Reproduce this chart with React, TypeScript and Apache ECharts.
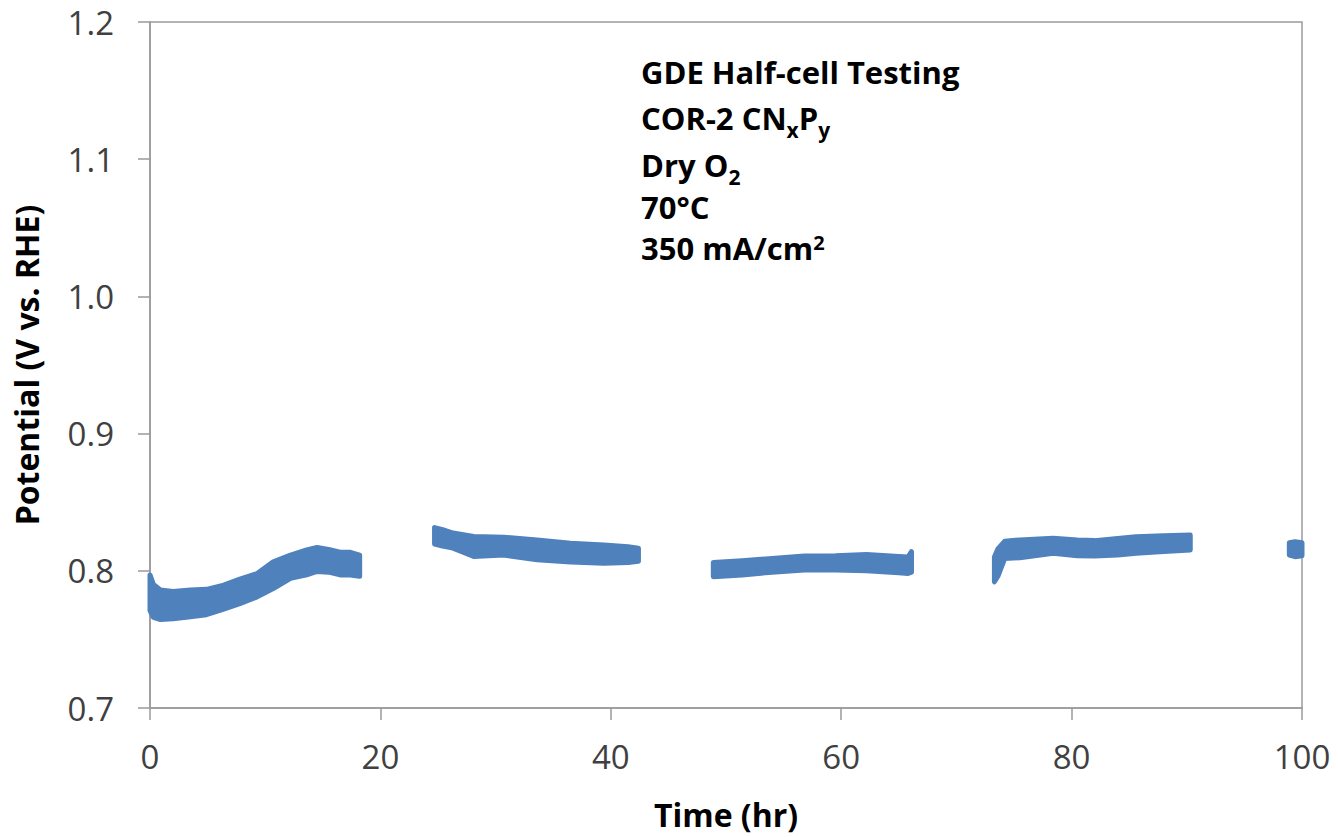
import React, { useEffect, useRef } from "react";
import * as echarts from "echarts";

// Time (hr) and lower / upper edge of the measured potential band (V vs. RHE), per test segment
const seg1Time = [0, 0.3, 0.9, 2.0, 3.5, 4.9, 6.4, 7.8, 9.3, 10.7, 12.2, 13.6, 14.5, 15.5, 16.5, 17.4, 18.2];
const seg1Low = [0.771, 0.766, 0.7645, 0.765, 0.7665, 0.768, 0.772, 0.776, 0.781, 0.787, 0.7945, 0.797, 0.7995, 0.799, 0.797, 0.797, 0.796];
const seg1High = [0.797, 0.79, 0.786, 0.785, 0.786, 0.7865, 0.7895, 0.794, 0.798, 0.8065, 0.8115, 0.8152, 0.817, 0.8155, 0.8135, 0.8135, 0.8115];

const seg2Time = [24.7, 25.4, 26.3, 28.1, 30.7, 33.6, 36.5, 39.4, 41.5, 42.4];
const seg2Low = [0.8195, 0.818, 0.8165, 0.8105, 0.8115, 0.808, 0.8065, 0.8055, 0.806, 0.807];
const seg2High = [0.8315, 0.83, 0.8275, 0.825, 0.8245, 0.8225, 0.82, 0.8188, 0.8175, 0.8165];

const seg3Time = [48.9, 51.4, 54.0, 56.8, 59.5, 62.2, 65.0, 65.8, 66.1];
const seg3Low = [0.7957, 0.797, 0.799, 0.8006, 0.8005, 0.8001, 0.7985, 0.798, 0.799];
const seg3High = [0.806, 0.8074, 0.809, 0.8108, 0.811, 0.8118, 0.8105, 0.81, 0.814];

const seg4Time = [73.3, 73.6, 74.2, 75.5, 78.4, 80.5, 82.0, 84.0, 85.6, 88.0, 90.3];
const seg4Low = [0.792, 0.796, 0.809, 0.8095, 0.8128, 0.811, 0.8108, 0.8115, 0.8128, 0.814, 0.8152];
const seg4High = [0.81, 0.816, 0.8215, 0.8225, 0.8237, 0.8225, 0.822, 0.8235, 0.8249, 0.8255, 0.8261];

const seg5Time = [98.9, 99.4, 100];
const seg5Low = [0.8115, 0.8103, 0.811];
const seg5High = [0.8205, 0.8212, 0.8205];

const segments = [
  { time: seg1Time, low: seg1Low, high: seg1High },
  { time: seg2Time, low: seg2Low, high: seg2High },
  { time: seg3Time, low: seg3Low, high: seg3High },
  { time: seg4Time, low: seg4Low, high: seg4High },
  { time: seg5Time, low: seg5Low, high: seg5High },
];

const xTicks = { min: 0, max: 100, interval: 20 };
const yTicks = { min: 0.7, max: 1.2, interval: 0.1 };

const annotationLines = [
  "{m|GDE Half-cell Testing}",
  "{m|COR-2 CN}{s|x}{m|P}{s|y}",
  "{m|Dry O}{s|2}",
  "{m|70°C}",
  "{n|350 mA/cm}{p|2}",
];

const BLUE = "#4F81BD";
const AXIS = "#9a9a9a";
const FONT = "'Open Sans', 'Noto Sans', sans-serif";

export default function App() {
  const ref = useRef<HTMLDivElement>(null);

  useEffect(() => {
    if (!ref.current) return;
    const chart = echarts.init(ref.current, undefined, { renderer: "svg" });

    const series: any[] = segments.map((seg) => ({
      type: "custom",
      coordinateSystem: "cartesian2d",
      data: [[seg.time[0], seg.low[0]]],
      z: 3,
      renderItem: (_params: any, api: any) => {
        const pts: number[][] = [];
        for (let i = 0; i < seg.time.length; i++) pts.push(api.coord([seg.time[i], seg.high[i]]));
        for (let i = seg.time.length - 1; i >= 0; i--) pts.push(api.coord([seg.time[i], seg.low[i]]));
        return {
          type: "polygon",
          shape: { points: pts },
          style: { fill: BLUE, stroke: BLUE, lineWidth: 5, lineJoin: "round" },
        };
      },
    }));

    const richStyles = {
      m: { fontFamily: FONT, fontSize: 31, fontWeight: "bold", lineHeight: 44, fill: "#000", color: "#000" },
      n: { fontFamily: FONT, fontSize: 31, fontWeight: "bold", lineHeight: 32, fill: "#000", color: "#000" },
      s: { fontFamily: FONT, fontSize: 21, fontWeight: "bold", lineHeight: 10, verticalAlign: "bottom", fill: "#000", color: "#000" },
      p: { fontFamily: FONT, fontSize: 20, fontWeight: "bold", lineHeight: 10, verticalAlign: "top", fill: "#000", color: "#000" },
    };
    const lineY = [71.7, 118.4, 165, 206.7, 248.4];

    chart.setOption({
      animation: false,
      backgroundColor: "#ffffff",
      grid: {
        left: 150,
        right: 36,
        top: 22,
        bottom: 129,
        show: true,
        borderColor: AXIS,
        borderWidth: 1.5,
        backgroundColor: "transparent",
      },
      xAxis: {
        type: "value",
        min: xTicks.min,
        max: xTicks.max,
        interval: xTicks.interval,
        name: "Time (hr)",
        nameLocation: "middle",
        nameGap: 90,
        nameTextStyle: { fontFamily: FONT, fontSize: 32, fontWeight: "bold", color: "#000" },
        axisLine: { show: true, lineStyle: { color: AXIS, width: 1.5 } },
        axisTick: { show: true, length: 12, lineStyle: { color: AXIS, width: 1.5 } },
        axisLabel: { fontFamily: FONT, fontSize: 33, color: "#404040", margin: 32 },
        splitLine: { show: false },
      },
      yAxis: {
        type: "value",
        min: yTicks.min,
        max: yTicks.max,
        interval: yTicks.interval,
        name: "Potential (V vs. RHE)",
        nameLocation: "middle",
        nameRotate: 90,
        nameGap: 108,
        nameTextStyle: { fontFamily: FONT, fontSize: 32, fontWeight: "bold", color: "#000" },
        axisLine: { show: true, lineStyle: { color: AXIS, width: 1.5 } },
        axisTick: { show: true, length: 12, lineStyle: { color: AXIS, width: 1.5 } },
        axisLabel: {
          fontFamily: FONT,
          fontSize: 33,
          color: "#404040",
          margin: 36,
          formatter: (v: number) => v.toFixed(1),
        },
        splitLine: { show: false },
      },
      graphic: annotationLines.map((txt, i) => ({
        type: "text",
        x: 641,
        y: lineY[i],
        z: 10,
        style: {
          text: txt,
          rich: richStyles,
          fontFamily: FONT,
          fontSize: 31,
          fontWeight: "bold",
          fill: "#000",
          align: "left",
          verticalAlign: "middle",
        },
      })),
      series,
    });

    return () => chart.dispose();
  }, []);

  return (
    <div
      ref={ref}
      style={{ position: "fixed", left: 0, top: 0, width: 1338, height: 837, background: "#fff" }}
    />
  );
}
